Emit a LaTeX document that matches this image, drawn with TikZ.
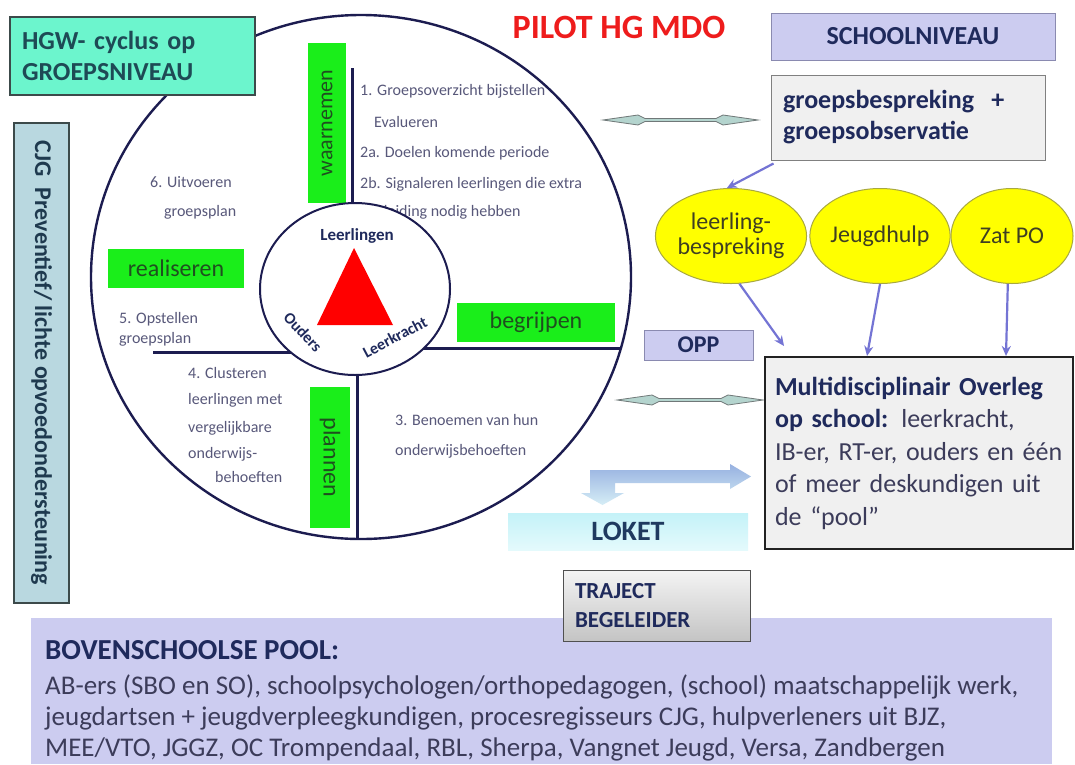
\documentclass[tikz,border=0pt]{standalone}
\usepackage{fontspec}
\setmainfont{Carlito}
\usetikzlibrary{arrows.meta,shapes.geometric,calc}
\definecolor{navy}{HTML}{1F2A5C}
\definecolor{ringline}{HTML}{1C1C50}
\definecolor{gtext}{HTML}{58587A}
\definecolor{grn}{HTML}{1AEE1A}
\definecolor{grntext}{HTML}{1F4F1F}
\definecolor{aqua}{HTML}{6CF5CD}
\definecolor{slate}{HTML}{3C4A4A}
\definecolor{hgwtext}{HTML}{1E4A55}
\definecolor{cjgfill}{HTML}{B9D8E0}
\definecolor{cjgtext}{HTML}{1F3A4F}
\definecolor{lav}{HTML}{CCCCF0}
\definecolor{lavline}{HTML}{8A8AB0}
\definecolor{lgray}{HTML}{F0F0F0}
\definecolor{mdoline}{HTML}{222222}
\definecolor{yel}{HTML}{FFFF00}
\definecolor{yelline}{HTML}{A8A840}
\definecolor{oltext}{HTML}{3F3F22}
\definecolor{arrblue}{HTML}{7474D4}
\definecolor{pilotred}{HTML}{EE1C1C}
\definecolor{bodygray}{HTML}{3C3C5A}
\definecolor{dblfill}{HTML}{B4D4CE}
\definecolor{dblline}{HTML}{707878}
\definecolor{larrtop}{HTML}{96B0E0}
\definecolor{larrbot}{HTML}{D6EEF6}
\definecolor{loktop}{HTML}{C4F2F8}
\definecolor{lokbot}{HTML}{E4FAFC}
\definecolor{loktext}{HTML}{1F3A5F}
\definecolor{trtop}{HTML}{F4F4F4}
\definecolor{trbot}{HTML}{C4C4C4}
\definecolor{trline}{HTML}{505050}
\newcommand\fs[2]{\fontsize{#1}{#2}\selectfont}
\begin{document}
\begin{tikzpicture}[x=1pt,y=-1pt,
  greenbox/.style={fill=grn, draw=none, inner sep=0pt, font=\fs{24}{28}, text=grntext},
  smalltxt/.style={anchor=base west, inner sep=0pt, font=\fs{16}{19}, text=gtext},
  yelnode/.style={ellipse, fill=yel, draw=yelline, line width=1pt, inner sep=0pt, font=\fs{24}{25}, text=oltext, align=center},
  arr/.style={draw=arrblue, line width=2.2pt, -{Stealth[length=10pt,width=9pt]}},
  crossline/.style={draw=ringline, line width=3pt},
  dbl/.style={fill=dblfill, draw=dblline, line width=0.8pt},
  boxtxt/.style={inner sep=0pt, text=navy},
  pooltxt/.style={anchor=base west, inner sep=0pt, font=\fs{27}{31}, text=bodygray}
]
\useasboundingbox (0,0) rectangle (1075,764);
\fill[white] (0,0) rectangle (1075,764);

% big ring
\node[ellipse, draw=ringline, line width=2.4pt, minimum width=540pt, minimum height=524pt, inner sep=0pt] (ring) at (361,277) {};

% cross lines
\coordinate (vt1) at (352,68);  \coordinate (vt2) at (352,260);
\coordinate (vb1) at (357,320); \coordinate (vb2) at (357,538);
\coordinate (hl1) at (153,352); \coordinate (hl2) at (300,352);
\coordinate (hr1) at (410,348); \coordinate (hr2) at (620,348);
\draw[crossline] (vt1) -- (vt2);
\draw[crossline] (vb1) -- (vb2);
\draw[crossline] (hl1) -- (hl2);
\draw[crossline] (hr1) -- (hr2);

% texts in quadrants
\node[smalltxt] (t1)  at (360,95)  {1. Groepsoverzicht bijstellen};
\node[smalltxt] (t1b) at (374,127) {Evalueren};
\node[smalltxt] (t2a) at (360,157) {2a. Doelen komende periode};
\node[smalltxt] (t2b) at (360,188) {2b. Signaleren leerlingen die extra};
\node[smalltxt] (t2c) at (352,216) {begeleiding nodig hebben};
\node[smalltxt] (t6a) at (150,187) {6. Uitvoeren};
\node[smalltxt] (t6b) at (164,216) {groepsplan};
\node[smalltxt] (t5a) at (119,323) {5. Opstellen};
\node[smalltxt] (t5b) at (119,343) {groepsplan};
\node[smalltxt] (t4a) at (188,378) {4. Clusteren};
\node[smalltxt] (t4b) at (188,404) {leerlingen met};
\node[smalltxt] (t4c) at (188,432) {vergelijkbare};
\node[smalltxt] (t4d) at (188,458) {onderwijs-};
\node[smalltxt] (t4e) at (215,482) {behoeften};
\node[smalltxt] (t3a) at (395,425) {3. Benoemen van hun};
\node[smalltxt] (t3b) at (395,455) {onderwijsbehoeften};

% green boxes
\node[greenbox, rotate=90, minimum width=160pt, minimum height=38pt, font=\fs{22}{26}] (waar) at (327,123) {waarnemen};
\node[greenbox, minimum width=136pt, minimum height=39pt] (real) at (176,268.5) {realiseren};
\node[greenbox, minimum width=158pt, minimum height=39pt] (begr) at (536,322.5) {begrijpen};
\node[greenbox, rotate=-90, minimum width=141pt, minimum height=40pt] (plan) at (330,457.5) {plannen};

% inner circle with triangle
\node[ellipse, draw=ringline, line width=2pt, fill=white, minimum width=190pt, minimum height=172pt, inner sep=0pt] (inner) at (355,289) {};
\coordinate (tA) at (354,248); \coordinate (tB) at (317,325); \coordinate (tC) at (393,325);
\fill[red] (tA) -- (tB) -- (tC) -- cycle;
\node[boxtxt, font=\bfseries\fs{17}{20}] (lleer) at (357,236) {Leerlingen};
\node[boxtxt, font=\bfseries\fs{16}{19}, rotate=-47] (loud) at (303,332) {Ouders};
\node[boxtxt, font=\bfseries\fs{16}{19}, rotate=28] (lkr) at (395,337) {Leerkracht};

% HGW box
\node[fill=aqua, draw=slate, line width=1.2pt, minimum width=245pt, minimum height=78pt, inner xsep=12pt, inner ysep=0pt,
      text width=221pt, align=left, font=\bfseries\fs{26}{31}, text=hgwtext] (hgw) at (132.5,56) {HGW- cyclus op\\GROEPSNIVEAU};

% CJG box
\node[fill=cjgfill, draw=slate, line width=1.4pt, rotate=-90, minimum width=480pt, minimum height=55pt, inner sep=0pt,
      font=\bfseries\fs{24}{28}, text=cjgtext] (cjg) at (41.5,363) {CJG\ \ Preventief/ lichte opvoedondersteuning};

% title
\node[inner sep=0pt, font=\bfseries\fs{34}{38}, text=pilotred] (pilot) at (619,27) {PILOT HG MDO};

% school level
\node[fill=lav, draw=lavline, line width=1pt, minimum width=284pt, minimum height=47pt, inner sep=0pt,
      font=\bfseries\fs{26}{30}, text=navy] (school) at (913,36.5) {SCHOOLNIVEAU};
\node[fill=lgray, draw=gray, line width=1pt, minimum width=274pt, minimum height=85pt, inner xsep=12pt, inner ysep=0pt,
      text width=250pt, align=left, font=\bfseries\fs{26}{31}, text=navy] (grp) at (908,117.5) {groepsbespreking\ \ +\\groepsobservatie};

% thin double arrows
\coordinate (da1l) at (603,120); \coordinate (da1r) at (758,120);
\coordinate (da2l) at (617,400); \coordinate (da2r) at (763,400);
\draw[dbl] (da1l) -- ++(35,-5) -- ++(7,3.5) -- ($(da1r)+(-42,-1.5)$) -- ++(7,-3.5) -- (da1r) -- ++(-35,5) -- ++(-7,-3.5) -- ($(da1l)+(42,1.5)$) -- ++(-7,3.5) -- cycle;
\draw[dbl] (da2l) -- ++(35,-5) -- ++(7,3.5) -- ($(da2r)+(-42,-1.5)$) -- ++(7,-3.5) -- (da2r) -- ++(-35,5) -- ++(-7,-3.5) -- ($(da2l)+(42,1.5)$) -- ++(-7,3.5) -- cycle;

% ellipses
\node[yelnode, minimum width=147pt, minimum height=95pt] (leer) at (731,236) {leerling-\\bespreking};
\node[yelnode, minimum width=133pt, minimum height=95pt] (jeug) at (880,236) {Jeugdhulp};
\node[yelnode, minimum width=122pt, minimum height=95pt] (zat) at (1012,236) {Zat PO};

% OPP
\node[fill=lav, draw=lavline, line width=0.8pt, minimum width=109pt, minimum height=30pt, inner sep=0pt,
      font=\bfseries\fs{24}{28}, text=navy] (opp) at (698.5,345) {OPP};

% MDO box
\node[fill=lgray, draw=mdoline, line width=2pt, minimum width=308pt, minimum height=192pt, inner xsep=10pt, inner ysep=0pt,
      text width=288pt, align=left, font=\fs{26}{32.5}, text=bodygray] (mdo) at (919,453)
  {\textcolor{navy}{\bfseries Multidisciplinair Overleg}\\\textcolor{navy}{\bfseries op school:} leerkracht,\\IB-er, RT-er, ouders en één\\of meer deskundigen uit\\de “pool”};

% arrows
\coordinate (mdoA) at (784,346);
\draw[arr] ([xshift=3pt,yshift=-3pt]grp.south west) -- (leer.95);
\draw[arr] (leer.-80) -- (mdoA);
\draw[arr] (jeug.south) -- (mdo.north -| 867,0);
\draw[arr] (zat.-95) -- (mdo.north -| 1006,0);

% L-shaped arrow to LOKET
\shade[top color=larrtop, bottom color=larrbot]
  (590,470) -- (730,470) -- (730,464) -- (751,476.5) -- (730,489) -- (730,483) -- (615,483) -- (615,493) -- (624,493) -- (602.5,505) -- (581,493) -- (590,493) -- cycle;

% LOKET
\node[top color=loktop, bottom color=lokbot, minimum width=240pt, minimum height=37pt, inner sep=0pt,
      font=\bfseries\fs{28}{32}, text=loktext] (loket) at (628,531.5) {LOKET};

% pool
\node[fill=lav, minimum width=1021pt, minimum height=146pt, inner sep=0pt] (pool) at (541.5,691) {};
\node[anchor=base west, inner sep=0pt, font=\bfseries\fs{29}{33}, text=navy] (ph) at (45,659) {BOVENSCHOOLSE POOL:};
\node[pooltxt] (p1) at (45,694) {AB-ers (SBO en SO), schoolpsychologen/orthopedagogen, (school) maatschappelijk werk,};
\node[pooltxt] (p2) at (45,725) {jeugdartsen + jeugdverpleegkundigen, procesregisseurs CJG, hulpverleners uit BJZ,};
\node[pooltxt] (p3) at (45,756) {MEE/VTO, JGGZ, OC Trompendaal, RBL, Sherpa, Vangnet Jeugd, Versa, Zandbergen};

% TRAJECT BEGELEIDER
\node[top color=trtop, bottom color=trbot, draw=trline, line width=1pt,
      minimum width=187pt, minimum height=71pt, inner xsep=12pt, inner ysep=0pt, text width=163pt, align=left,
      font=\bfseries\fs{23}{29}, text=navy] (traj) at (656.5,605.5) {TRAJECT\\BEGELEIDER};
\end{tikzpicture}
\end{document}
